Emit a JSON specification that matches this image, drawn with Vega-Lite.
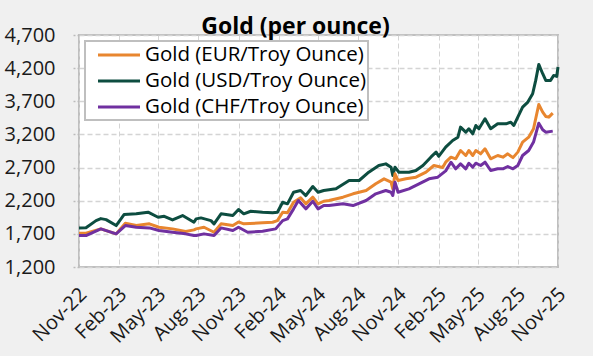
{
  "$schema": "https://vega.github.io/schema/vega-lite/v6.json",
  "autosize": {"type": "none"},
  "width": 479,
  "height": 232,
  "padding": {"left": 79, "top": 35, "right": 35, "bottom": 89},
  "background": "#f0f0f0",
  "title": {"text": "Gold (per ounce)", "font": "Open Sans", "fontSize": 23, "fontWeight": "bold", "color": "#000000", "anchor": "middle", "frame": "group", "dx": -23, "dy": 5, "offset": -9},
  "config": {
    "view": {"fill": "#ffffff", "stroke": "#bfbfbf", "strokeWidth": 2},
    "font": "Open Sans"
  },
  "data": {"values": [
    {"d":"2022-11-01","s":"USD","v":1790},{"d":"2022-11-17","s":"USD","v":1792},{"d":"2022-12-10","s":"USD","v":1900},{"d":"2022-12-21","s":"USD","v":1930},{"d":"2023-01-02","s":"USD","v":1915},{"d":"2023-01-25","s":"USD","v":1825},{"d":"2023-02-12","s":"USD","v":1991},{"d":"2023-03-12","s":"USD","v":2002},{"d":"2023-04-08","s":"USD","v":2027},{"d":"2023-05-01","s":"USD","v":1950},{"d":"2023-05-15","s":"USD","v":1965},{"d":"2023-06-03","s":"USD","v":1911},{"d":"2023-06-26","s":"USD","v":1976},{"d":"2023-07-22","s":"USD","v":1875},{"d":"2023-07-27","s":"USD","v":1926},{"d":"2023-08-07","s":"USD","v":1941},{"d":"2023-08-30","s":"USD","v":1900},{"d":"2023-09-06","s":"USD","v":1851},{"d":"2023-09-22","s":"USD","v":2002},{"d":"2023-10-19","s":"USD","v":1976},{"d":"2023-11-01","s":"USD","v":2067},{"d":"2023-11-13","s":"USD","v":2002},{"d":"2023-11-29","s":"USD","v":2041},{"d":"2023-12-26","s":"USD","v":2026},{"d":"2024-01-18","s":"USD","v":2017},{"d":"2024-01-29","s":"USD","v":2026},{"d":"2024-02-10","s":"USD","v":2177},{"d":"2024-02-21","s":"USD","v":2153},{"d":"2024-03-06","s":"USD","v":2328},{"d":"2024-03-22","s":"USD","v":2354},{"d":"2024-04-03","s":"USD","v":2278},{"d":"2024-04-19","s":"USD","v":2414},{"d":"2024-05-01","s":"USD","v":2328},{"d":"2024-05-14","s":"USD","v":2354},{"d":"2024-06-11","s":"USD","v":2379},{"d":"2024-07-11","s":"USD","v":2505},{"d":"2024-08-03","s":"USD","v":2505},{"d":"2024-08-25","s":"USD","v":2630},{"d":"2024-09-17","s":"USD","v":2731},{"d":"2024-10-03","s":"USD","v":2756},{"d":"2024-10-15","s":"USD","v":2706},{"d":"2024-10-19","s":"USD","v":2581},{"d":"2024-10-24","s":"USD","v":2706},{"d":"2024-11-02","s":"USD","v":2630},{"d":"2024-11-25","s":"USD","v":2630},{"d":"2024-12-11","s":"USD","v":2656},{"d":"2024-12-27","s":"USD","v":2731},{"d":"2025-01-14","s":"USD","v":2857},{"d":"2025-01-26","s":"USD","v":2933},{"d":"2025-02-01","s":"USD","v":2870},{"d":"2025-02-17","s":"USD","v":3008},{"d":"2025-03-05","s":"USD","v":3109},{"d":"2025-03-17","s":"USD","v":3159},{"d":"2025-03-23","s":"USD","v":3310},{"d":"2025-04-04","s":"USD","v":3234},{"d":"2025-04-11","s":"USD","v":3285},{"d":"2025-04-20","s":"USD","v":3209},{"d":"2025-04-27","s":"USD","v":3335},{"d":"2025-05-04","s":"USD","v":3285},{"d":"2025-05-18","s":"USD","v":3436},{"d":"2025-05-31","s":"USD","v":3285},{"d":"2025-06-16","s":"USD","v":3360},{"d":"2025-07-05","s":"USD","v":3360},{"d":"2025-07-16","s":"USD","v":3385},{"d":"2025-07-23","s":"USD","v":3335},{"d":"2025-08-01","s":"USD","v":3461},{"d":"2025-08-12","s":"USD","v":3612},{"d":"2025-08-24","s":"USD","v":3688},{"d":"2025-09-04","s":"USD","v":3814},{"d":"2025-09-11","s":"USD","v":4015},{"d":"2025-09-18","s":"USD","v":4256},{"d":"2025-09-27","s":"USD","v":4116},{"d":"2025-10-04","s":"USD","v":4015},{"d":"2025-10-15","s":"USD","v":4015},{"d":"2025-10-22","s":"USD","v":4090},{"d":"2025-10-29","s":"USD","v":4075},{"d":"2025-11-01","s":"USD","v":4216},
    {"d":"2022-11-01","s":"EUR","v":1709},{"d":"2022-11-17","s":"EUR","v":1709},{"d":"2022-12-21","s":"EUR","v":1775},{"d":"2023-01-25","s":"EUR","v":1700},{"d":"2023-02-15","s":"EUR","v":1860},{"d":"2023-03-12","s":"EUR","v":1825},{"d":"2023-04-11","s":"EUR","v":1851},{"d":"2023-05-03","s":"EUR","v":1800},{"d":"2023-06-03","s":"EUR","v":1775},{"d":"2023-07-03","s":"EUR","v":1735},{"d":"2023-07-22","s":"EUR","v":1760},{"d":"2023-07-27","s":"EUR","v":1775},{"d":"2023-08-14","s":"EUR","v":1800},{"d":"2023-09-06","s":"EUR","v":1724},{"d":"2023-09-22","s":"EUR","v":1851},{"d":"2023-10-19","s":"EUR","v":1825},{"d":"2023-11-01","s":"EUR","v":1880},{"d":"2023-11-13","s":"EUR","v":1851},{"d":"2023-12-26","s":"EUR","v":1866},{"d":"2024-01-18","s":"EUR","v":1875},{"d":"2024-01-29","s":"EUR","v":1900},{"d":"2024-02-10","s":"EUR","v":2026},{"d":"2024-02-21","s":"EUR","v":2017},{"d":"2024-03-06","s":"EUR","v":2177},{"d":"2024-03-22","s":"EUR","v":2243},{"d":"2024-04-03","s":"EUR","v":2153},{"d":"2024-04-19","s":"EUR","v":2253},{"d":"2024-05-01","s":"EUR","v":2153},{"d":"2024-05-14","s":"EUR","v":2192},{"d":"2024-05-26","s":"EUR","v":2203},{"d":"2024-06-27","s":"EUR","v":2253},{"d":"2024-07-20","s":"EUR","v":2304},{"d":"2024-08-19","s":"EUR","v":2354},{"d":"2024-09-10","s":"EUR","v":2455},{"d":"2024-09-29","s":"EUR","v":2530},{"d":"2024-10-15","s":"EUR","v":2480},{"d":"2024-10-19","s":"EUR","v":2379},{"d":"2024-10-24","s":"EUR","v":2606},{"d":"2024-10-31","s":"EUR","v":2505},{"d":"2024-11-18","s":"EUR","v":2530},{"d":"2024-12-11","s":"EUR","v":2555},{"d":"2025-01-03","s":"EUR","v":2630},{"d":"2025-01-21","s":"EUR","v":2731},{"d":"2025-02-10","s":"EUR","v":2700},{"d":"2025-02-17","s":"EUR","v":2781},{"d":"2025-03-01","s":"EUR","v":2857},{"d":"2025-03-12","s":"EUR","v":2832},{"d":"2025-03-23","s":"EUR","v":2958},{"d":"2025-04-04","s":"EUR","v":2882},{"d":"2025-04-11","s":"EUR","v":2958},{"d":"2025-04-20","s":"EUR","v":2882},{"d":"2025-04-27","s":"EUR","v":2958},{"d":"2025-05-08","s":"EUR","v":2907},{"d":"2025-05-18","s":"EUR","v":2983},{"d":"2025-05-31","s":"EUR","v":2832},{"d":"2025-06-16","s":"EUR","v":2882},{"d":"2025-06-28","s":"EUR","v":2857},{"d":"2025-07-09","s":"EUR","v":2907},{"d":"2025-07-21","s":"EUR","v":2850},{"d":"2025-08-01","s":"EUR","v":2933},{"d":"2025-08-12","s":"EUR","v":3084},{"d":"2025-08-26","s":"EUR","v":3159},{"d":"2025-09-06","s":"EUR","v":3285},{"d":"2025-09-18","s":"EUR","v":3652},{"d":"2025-09-27","s":"EUR","v":3536},{"d":"2025-10-04","s":"EUR","v":3471},{"d":"2025-10-11","s":"EUR","v":3461},{"d":"2025-10-20","s":"EUR","v":3521},
    {"d":"2022-11-01","s":"CHF","v":1674},{"d":"2022-11-17","s":"CHF","v":1674},{"d":"2022-12-21","s":"CHF","v":1775},{"d":"2023-01-25","s":"CHF","v":1700},{"d":"2023-02-15","s":"CHF","v":1825},{"d":"2023-03-12","s":"CHF","v":1800},{"d":"2023-04-11","s":"CHF","v":1790},{"d":"2023-05-03","s":"CHF","v":1750},{"d":"2023-06-03","s":"CHF","v":1724},{"d":"2023-07-03","s":"CHF","v":1700},{"d":"2023-07-22","s":"CHF","v":1674},{"d":"2023-07-27","s":"CHF","v":1674},{"d":"2023-08-14","s":"CHF","v":1700},{"d":"2023-09-06","s":"CHF","v":1674},{"d":"2023-09-22","s":"CHF","v":1790},{"d":"2023-10-19","s":"CHF","v":1750},{"d":"2023-11-01","s":"CHF","v":1800},{"d":"2023-11-22","s":"CHF","v":1724},{"d":"2023-12-26","s":"CHF","v":1740},{"d":"2024-01-25","s":"CHF","v":1775},{"d":"2024-02-10","s":"CHF","v":1900},{"d":"2024-02-21","s":"CHF","v":1926},{"d":"2024-03-06","s":"CHF","v":2077},{"d":"2024-03-17","s":"CHF","v":2203},{"d":"2024-04-03","s":"CHF","v":2077},{"d":"2024-04-19","s":"CHF","v":2192},{"d":"2024-05-01","s":"CHF","v":2077},{"d":"2024-05-14","s":"CHF","v":2127},{"d":"2024-05-26","s":"CHF","v":2127},{"d":"2024-06-27","s":"CHF","v":2153},{"d":"2024-07-20","s":"CHF","v":2127},{"d":"2024-08-19","s":"CHF","v":2203},{"d":"2024-09-10","s":"CHF","v":2304},{"d":"2024-10-03","s":"CHF","v":2354},{"d":"2024-10-15","s":"CHF","v":2328},{"d":"2024-10-19","s":"CHF","v":2278},{"d":"2024-10-24","s":"CHF","v":2480},{"d":"2024-10-31","s":"CHF","v":2328},{"d":"2024-11-25","s":"CHF","v":2379},{"d":"2024-12-18","s":"CHF","v":2455},{"d":"2025-01-10","s":"CHF","v":2530},{"d":"2025-01-30","s":"CHF","v":2555},{"d":"2025-02-17","s":"CHF","v":2650},{"d":"2025-03-01","s":"CHF","v":2781},{"d":"2025-03-12","s":"CHF","v":2681},{"d":"2025-03-23","s":"CHF","v":2756},{"d":"2025-04-04","s":"CHF","v":2681},{"d":"2025-04-11","s":"CHF","v":2766},{"d":"2025-04-20","s":"CHF","v":2706},{"d":"2025-04-27","s":"CHF","v":2766},{"d":"2025-05-08","s":"CHF","v":2731},{"d":"2025-05-18","s":"CHF","v":2781},{"d":"2025-05-31","s":"CHF","v":2656},{"d":"2025-06-16","s":"CHF","v":2681},{"d":"2025-06-28","s":"CHF","v":2681},{"d":"2025-07-09","s":"CHF","v":2716},{"d":"2025-07-21","s":"CHF","v":2681},{"d":"2025-08-01","s":"CHF","v":2731},{"d":"2025-08-12","s":"CHF","v":2882},{"d":"2025-08-26","s":"CHF","v":2958},{"d":"2025-09-06","s":"CHF","v":3084},{"d":"2025-09-18","s":"CHF","v":3370},{"d":"2025-09-27","s":"CHF","v":3270},{"d":"2025-10-04","s":"CHF","v":3234},{"d":"2025-10-20","s":"CHF","v":3250}
  ]},
  "mark": {"type": "line", "strokeWidth": 3, "strokeJoin": "round"},
  "encoding": {
    "x": {
      "field": "d", "type": "temporal",
      "scale": {"type": "utc", "domain": [{"year": 2022, "month": 11, "date": 1, "utc": true}, {"year": 2025, "month": 11, "date": 1, "utc": true}]},
      "axis": {
        "title": null,
        "labelExpr": "utcFormat(datum.value, '%b-%y')",
        "values": [
          {"year": 2022, "month": 11, "date": 1, "utc": true},
          {"year": 2023, "month": 2, "date": 1, "utc": true},
          {"year": 2023, "month": 5, "date": 1, "utc": true},
          {"year": 2023, "month": 8, "date": 1, "utc": true},
          {"year": 2023, "month": 11, "date": 1, "utc": true},
          {"year": 2024, "month": 2, "date": 1, "utc": true},
          {"year": 2024, "month": 5, "date": 1, "utc": true},
          {"year": 2024, "month": 8, "date": 1, "utc": true},
          {"year": 2024, "month": 11, "date": 1, "utc": true},
          {"year": 2025, "month": 2, "date": 1, "utc": true},
          {"year": 2025, "month": 5, "date": 1, "utc": true},
          {"year": 2025, "month": 8, "date": 1, "utc": true},
          {"year": 2025, "month": 11, "date": 1, "utc": true}
        ],
        "labelAngle": -45, "labelAlign": "right", "labelBaseline": "middle",
        "labelFontSize": 20, "labelColor": "#1a1a1a", "labelPadding": 24, "labelOffset": 4,
        "labelOverlap": false, "labelFlush": false, "labelBound": false,
        "ticks": false, "domain": false,
        "grid": true, "gridColor": "#d4d4d4", "gridDash": [5, 3], "gridWidth": 1
      }
    },
    "y": {
      "field": "v", "type": "quantitative",
      "scale": {"domain": [1200, 4700], "nice": false, "zero": false},
      "axis": {
        "title": null, "values": [1200, 1700, 2200, 2700, 3200, 3700, 4200, 4700], "format": ",.0f",
        "labelFontSize": 20, "labelColor": "#1a1a1a", "labelPadding": 18,
        "labelOverlap": false, "labelFlush": false,
        "domain": false, "ticks": true, "tickSize": 6, "tickColor": "#bbbbbb", "tickDash": [2, 2], "tickWidth": 1.5,
        "grid": true, "gridColor": "#d4d4d4", "gridDash": [5, 3], "gridWidth": 1.5
      }
    },
    "color": {
      "field": "s", "type": "nominal",
      "scale": {"domain": ["EUR", "USD", "CHF"], "range": ["#E8862F", "#0D4D40", "#7030A0"]},
      "legend": {
        "title": null, "orient": "top-left", "offset": 6,
        "labelExpr": "'Gold (' + datum.label + '/Troy Ounce)'",
        "labelFontSize": 20.5, "labelColor": "#000000", "labelOffset": 14, "labelLimit": 400,
        "symbolType": "M-2,0H2", "symbolStrokeWidth": 3, "symbolSize": 441, "symbolOffset": 20,
        "rowPadding": 3, "padding": 2,
        "fillColor": "#ffffff", "strokeColor": "#bfbfbf",
        "encode": {"legend": {"update": {"strokeWidth": {"value": 2}}}}
      }
    }
  }
}
